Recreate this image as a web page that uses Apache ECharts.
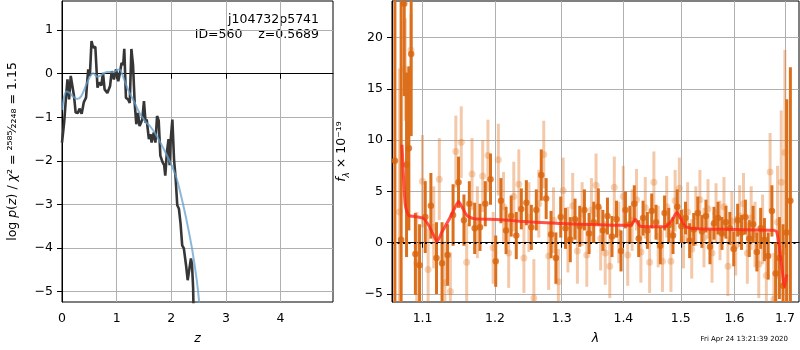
<!DOCTYPE html>
<html>
<head>
<meta charset="utf-8">
<script src="https://cdn.jsdelivr.net/npm/echarts@6/dist/echarts.min.js"></script>
<style>
  html, body { margin: 0; padding: 0; background: #fff; }
  #chart { width: 800px; height: 350px; }
</style>
</head>
<body>
<div id="chart"></div>
<script>
// ---- left panel: log p(z) ----
const zTicks = [0, 1, 2, 3, 4];
const logpTicks = [-5, -4, -3, -2, -1, 0, 1];

const zData = [0, 0.04, 0.07, 0.10, 0.13, 0.16, 0.19, 0.22, 0.25, 0.29,
  0.32, 0.36, 0.40, 0.44, 0.46, 0.48, 0.51, 0.54, 0.57, 0.61,
  0.65, 0.68, 0.72, 0.75, 0.78, 0.83, 0.88, 0.91, 0.95, 0.99,
  1.03, 1.06, 1.09, 1.12, 1.14, 1.17, 1.21, 1.24, 1.27, 1.30,
  1.33, 1.36, 1.39, 1.42, 1.47, 1.50, 1.53, 1.55, 1.59, 1.62,
  1.64, 1.68, 1.71, 1.74, 1.77, 1.80, 1.84, 1.87, 1.89, 1.92,
  1.95, 1.97, 1.99, 2.02, 2.05, 2.08, 2.11, 2.14, 2.17, 2.20,
  2.23, 2.27, 2.30, 2.33, 2.36, 2.38, 2.40, 2.41];
const logpData = [-1.58, -1.11, -0.59, -0.13, -0.59, -0.05, -0.03, -0.51, -0.89, -0.90,
  -0.80, -0.92, -0.65, -0.55, -0.20, 0.10, -0.05, 0.75, 0.60, 0.62,
  -0.32, -0.20, -0.27, 0.02, -0.36, -0.44, -0.28, 0.06, -0.13, 0.10,
  -0.17, 0.02, 0.25, 0.20, 0.57, -0.55, -0.59, -0.67, 0.57, 0.20,
  -0.67, -1.16, -0.90, -1.20, -1.05, -0.63, -1.12, -1.05, -1.50, -1.39,
  -1.58, -1.35, -1.58, -0.97, -1.08, -1.88, -2.03, -2.10, -2.34, -1.80,
  -1.50, -2.10, -1.50, -1.05, -1.96, -2.41, -3.02, -3.10, -3.44, -3.94,
  -4.01, -4.39, -4.74, -4.70, -4.24, -4.39, -4.92, -5.6];

const zSmooth = [0, 0.04, 0.08, 0.14, 0.20, 0.28, 0.35, 0.43, 0.51, 0.57,
  0.65, 0.72, 0.82, 0.94, 1.03, 1.07, 1.12, 1.21, 1.30, 1.42,
  1.54, 1.61, 1.70, 1.80, 1.98, 2.10, 2.22, 2.31, 2.39, 2.47, 2.51, 2.56];
const logpSmooth = [-0.83, -0.52, -0.41, -0.44, -0.52, -0.58, -0.52, -0.29, -0.07, 0.01,
  -0.07, -0.03, 0.04, 0.04, 0.10, 0.08, -0.07, -0.37, -0.59, -0.90,
  -1.12, -1.20, -1.36, -1.58, -2.03, -2.41, -3.02, -3.55, -4.09, -4.77, -5.23, -5.9];

// ---- right panel: spectrum ----
const lamTicks = [1.1, 1.2, 1.3, 1.4, 1.5, 1.6, 1.7];
const fluxTicks = [-5, 0, 5, 10, 15, 20];

const darkLam = [1.064, 1.072, 1.076, 1.079, 1.082, 1.085, 1.0905, 1.096, 1.1035, 1.111,
  1.1185, 1.126, 1.1335, 1.141, 1.1485, 1.156, 1.1635, 1.171, 1.1785, 1.186,
  1.1935, 1.201, 1.2085, 1.216, 1.2235, 1.231, 1.2385, 1.246, 1.2535, 1.261,
  1.2685, 1.276, 1.2835, 1.291, 1.2985, 1.306, 1.3135, 1.321, 1.3285, 1.336,
  1.3435, 1.351, 1.3585, 1.366, 1.3735, 1.381, 1.3885, 1.396, 1.4035, 1.411,
  1.4185, 1.426, 1.4335, 1.441, 1.4485, 1.456, 1.4635, 1.471, 1.4785, 1.486,
  1.4935, 1.501, 1.5085, 1.516, 1.5235, 1.531, 1.5385, 1.546, 1.5535, 1.561,
  1.5685, 1.576, 1.5835, 1.591, 1.5985, 1.606, 1.6135, 1.621, 1.6285, 1.636,
  1.6435, 1.651, 1.6585, 1.666, 1.6735, 1.681, 1.6885, 1.696, 1.7035, 1.711];
const darkFlux = [8.0, 0.3, 23.3, 7.6, 9.2, 18.4, -1.1, -2.2, 2.5, 3.6,
  -1.5, -2.0, -1.2, 2.7, 5.9, 2.2, 3.8, 1.4, 1.5, 3.8,
  6.2, -1.8, 4.1, 1.2, 2.6, 0.7, 3.3, 3.9, 1.5, 3.2,
  6.6, 4.3, 0.8, -1.5, 2.5, 1.4, 0.3, 2.3, 1.6, 3.2,
  0.9, 2.0, 3.5, 1.2, 2.6, 0.6, 2.3, -0.8, 3.2, 1.8,
  3.8, 0.4, 2.4, 1.2, 3.1, 2.0, -0.3, 2.9, 1.7, 0.7,
  3.5, 1.6, 2.4, 0.2, 1.3, 2.9, 1.1, 2.6, -0.4, 1.9,
  2.4, 0.9, 2.0, 1.4, -0.6, 2.2, 1.0, 2.5, 0.4, 1.8,
  -0.9, 1.4, 0.3, -1.3, 3.1, -3.0, -1.5, -4.2, 1.0, 4.1];
const darkErr = [30, 25, 9, 9, 8, 8, 4, 4, 3.5, 3.2,
  3.5, 4, 3, 3, 2.5, 2.5, 2.2, 2.5, 2.3, 2.2,
  2.5, 2.5, 2.2, 2.3, 2, 2.3, 2, 2.2, 2.2, 2,
  2.5, 2, 2.3, 2.5, 2, 2, 2.2, 2, 2, 2,
  2, 2, 1.8, 2, 1.8, 2, 1.8, 2, 1.8, 1.8,
  1.8, 1.8, 1.7, 1.8, 1.7, 1.7, 1.8, 1.7, 1.7, 1.8,
  1.7, 1.6, 1.6, 1.7, 1.6, 1.6, 1.6, 1.6, 1.7, 1.6,
  1.6, 1.6, 1.6, 1.6, 1.7, 1.6, 1.7, 1.7, 1.8, 1.8,
  1.9, 2, 2.1, 2.3, 2.5, 3, 4, 6, 13, 13];

const lightLam = [1.0698, 1.0773, 1.0848, 1.0923, 1.0998, 1.1073, 1.1148, 1.1223, 1.1298, 1.1373,
  1.1448, 1.1523, 1.1598, 1.1673, 1.1748, 1.1823, 1.1898, 1.1973, 1.2048, 1.2123,
  1.2198, 1.2273, 1.2348, 1.2423, 1.2498, 1.2573, 1.2648, 1.2723, 1.2798, 1.2873,
  1.2948, 1.3023, 1.3098, 1.3173, 1.3248, 1.3323, 1.3398, 1.3473, 1.3548, 1.3623,
  1.3698, 1.3773, 1.3848, 1.3923, 1.3998, 1.4073, 1.4148, 1.4223, 1.4298, 1.4373,
  1.4448, 1.4523, 1.4598, 1.4673, 1.4748, 1.4823, 1.4898, 1.4973, 1.5048, 1.5123,
  1.5198, 1.5273, 1.5348, 1.5423, 1.5498, 1.5573, 1.5648, 1.5723, 1.5798, 1.5873,
  1.5948, 1.6023, 1.6098, 1.6173, 1.6248, 1.6323, 1.6398, 1.6473, 1.6548, 1.6623,
  1.6698, 1.6773, 1.6848, 1.6923, 1.6998];
const lightFlux = [3.0, 16.9, 18.8, -2.0, 6.0, -2.6, 1.5, 6.2, -3.9, -4.75,
  8.9, 9.8, -1.9, 6.7, 2.0, 6.5, 8.5, -0.5, 8.1, 3.5,
  -1.0, 4.5, 5.7, -1.5, 2.5, -5.4, 3.8, 8.6, -1.3, 2.2,
  -3.8, 5.1, 0.3, 3.6, -0.8, 2.8, -1.2, 3.2, 5.6, 0.4,
  -1.0, -2.3, 5.4, 1.0, 4.5, -1.2, 2.2, 4.2, -0.9, 3.4,
  -1.9, 5.9, 0.6, -1.8, 3.5, -1.8, 4.1, 5.3, 0.4, 3.0,
  -0.6, 2.6, 4.2, 0.5, 3.3, -1.0, 2.9, 1.2, 3.5, -2.3,
  2.1, -0.3, 2.6, 3.8, -1.0, 2.4, 0.8, -2.1, 1.3, -3.2,
  6.9, -5.5, 2.0, 5.9, 8.8];
const lightErr = [14, 5, 3.5, 5, 4.5, 4, 4, 4, 4, 3.8,
  3.5, 3.5, 3.8, 3.5, 3.5, 3.5, 3.5, 3.5, 3.5, 3.4,
  3.4, 3.4, 3.4, 3.4, 3.4, 3.8, 3.3, 3.3, 3.3, 3.2,
  3.2, 3.2, 3.2, 3.2, 3.2, 3.1, 3.1, 3.1, 3.1, 3.1,
  3.1, 3.1, 3, 3, 3, 3, 3, 3, 3, 3,
  3, 3, 3, 3, 3, 3, 3, 3, 2.9, 2.9,
  2.9, 2.9, 2.9, 2.9, 2.9, 2.9, 2.9, 2.9, 2.9, 2.9,
  2.9, 2.9, 3, 3, 3, 3.1, 3.2, 3.3, 3.4, 3.6,
  3.8, 4.5, 5.5, 7, 10];

const modelLam = [1.0731, 1.0752, 1.0774, 1.0817, 1.0926, 1.1013, 1.108, 1.1146, 1.1192, 1.126,
  1.1349, 1.144, 1.1486, 1.1532, 1.16, 1.1695, 1.2028, 1.2369, 1.3, 1.4,
  1.413, 1.420, 1.4287, 1.4516, 1.472, 1.484, 1.4929, 1.5, 1.508, 1.52,
  1.6, 1.6765, 1.683, 1.688, 1.693, 1.699, 1.7036];
const modelFlux = [9.55, 6.2, 3.64, 2.67, 2.52, 2.35, 1.7, 0.74, 0.1, 1.07,
  2.19, 3.49, 4.03, 3.49, 2.67, 2.35, 2.26, 2.1, 1.87, 1.7,
  1.72, 2.29, 1.6, 1.55, 1.55, 2.19, 2.94, 2.35, 1.6, 1.39,
  1.29, 1.22, 1.07, -0.23, -2.17, -4.3, -3.1];

const FONT = 'DejaVu Sans';
const minus = v => String(v).replace('-', '\u2212');
const zip = (a, b, c) => a.map((v, i) => c ? [v, b[i], c[i]] : [v, b[i]]);

const chart = echarts.init(document.getElementById('chart'));

const gridLine = { show: true, lineStyle: { color: '#b0b0b0', width: 1 } };
const axisLine = { show: true, lineStyle: { color: '#000', width: 1 } };
const tick = (vals) => ({ show: true, length: 5, lineStyle: { color: '#000' }, customValues: vals });
const label = (vals, fmt, margin) => ({
  customValues: vals, color: '#000', fontSize: 12.5, fontFamily: FONT, margin: margin, formatter: fmt
});

function errorBars(lam, flux, err, color, width, z) {
  return {
    type: 'custom', xAxisIndex: 1, yAxisIndex: 1, clip: true, z: z, silent: true,
    data: zip(lam, flux, err),
    encode: { x: 0, y: 1 },
    renderItem: function (params, api) {
      const x = api.value(0), y = api.value(1), e = api.value(2);
      const lo = api.coord([x, y - e]);
      const hi = api.coord([x, y + e]);
      return {
        type: 'line',
        shape: { x1: lo[0], y1: lo[1], x2: hi[0], y2: hi[1] },
        style: { stroke: color, lineWidth: width }
      };
    }
  };
}

const option = {
  animation: false,
  backgroundColor: '#fff',
  textStyle: { fontFamily: FONT },
  grid: [
    { left: 62, top: 1, width: 271, height: 303, show: true, borderColor: '#000', borderWidth: 1 },
    { left: 392, top: 1, width: 407, height: 303, show: true, borderColor: '#000', borderWidth: 1 }
  ],
  xAxis: [
    {
      gridIndex: 0, type: 'value', min: 0, max: 4.96,
      axisLine: axisLine, axisTick: tick(zTicks), splitLine: gridLine,
      axisLabel: label(zTicks, v => minus(v), 10),
      name: 'z', nameLocation: 'middle', nameGap: 30,
      nameTextStyle: { fontStyle: 'italic', fontSize: 12.5, color: '#000', fontFamily: FONT }
    },
    {
      gridIndex: 1, type: 'log', logBase: 10, min: 1.0603, max: 1.7288,
      axisLine: axisLine, axisTick: tick(lamTicks), splitLine: gridLine,
      minorTick: { show: false }, minorSplitLine: { show: false },
      axisLabel: label(lamTicks, v => Number(v).toFixed(1), 10),
      name: 'λ', nameLocation: 'middle', nameGap: 30,
      nameTextStyle: { fontStyle: 'italic', fontSize: 12.5, color: '#000', fontFamily: FONT }
    }
  ],
  yAxis: [
    {
      gridIndex: 0, type: 'value', min: -5.24, max: 1.67,
      axisLine: axisLine, axisTick: tick(logpTicks), splitLine: gridLine,
      axisLabel: label(logpTicks, v => minus(v), 9),
      name: '{n|log }{i|p}{n|(}{i|z}{n|) / }{i|χ}{n|² = ²⁵⁸⁵⁄₂₂₄₈ = 1.15}',
      nameLocation: 'middle', nameGap: 43,
      nameTextStyle: {
        rich: {
          n: { fontSize: 12.5, fontFamily: FONT, color: '#000' },
          i: { fontSize: 12.5, fontFamily: FONT, color: '#000', fontStyle: 'italic' }
        }
      }
    },
    {
      gridIndex: 1, type: 'value', min: -5.78, max: 23.57,
      axisLine: axisLine, axisTick: tick(fluxTicks), splitLine: gridLine,
      axisLabel: label(fluxTicks, v => minus(v), 9),
      name: '{i|f}{s|λ}{n| × 10⁻¹⁹}',
      nameLocation: 'middle', nameGap: 41,
      nameTextStyle: {
        rich: {
          n: { fontSize: 12.5, fontFamily: FONT, color: '#000', lineHeight: 18 },
          i: { fontSize: 12.5, fontFamily: FONT, color: '#000', fontStyle: 'italic', lineHeight: 18 },
          s: { fontSize: 9, fontFamily: FONT, color: '#000', fontStyle: 'italic', verticalAlign: 'bottom', lineHeight: 9 }
        }
      }
    }
  ],
  graphic: [
    { type: 'text', x: 319, y: 20, style: { text: 'j104732p5741', align: 'right', textAlign: 'right', verticalAlign: 'middle', textVerticalAlign: 'middle', fontSize: 12.5, fontFamily: FONT, fill: '#000' } },
    { type: 'text', x: 319, y: 35, style: { text: 'ID=560    z=0.5689', align: 'right', textAlign: 'right', verticalAlign: 'middle', textVerticalAlign: 'middle', fontSize: 12.5, fontFamily: FONT, fill: '#000' } },
    { type: 'text', x: 788, y: 339.5, style: { text: 'Fri Apr 24 13:21:39 2020', align: 'right', textAlign: 'right', verticalAlign: 'middle', textVerticalAlign: 'middle', fontSize: 7, fontFamily: FONT, fill: '#000' } }
  ],
  series: [
    {
      type: 'line', xAxisIndex: 0, yAxisIndex: 0, data: zip(zData, logpData),
      showSymbol: false, symbol: 'none', z: 3,
      lineStyle: { color: '#363636', width: 2.6 }
    },
    {
      type: 'line', xAxisIndex: 0, yAxisIndex: 0, data: zip(zSmooth, logpSmooth),
      showSymbol: false, symbol: 'none', smooth: 0.3, z: 4,
      lineStyle: { color: 'rgba(100,160,205,0.75)', width: 2 }
    },
    errorBars(lightLam, lightFlux, lightErr, 'rgba(228,120,40,0.4)', 3, 2),
    {
      type: 'scatter', xAxisIndex: 1, yAxisIndex: 1, data: zip(lightLam, lightFlux),
      symbolSize: 7, z: 2, clip: true,
      itemStyle: { color: 'rgba(228,120,40,0.4)' }
    },
    errorBars(darkLam, darkFlux, darkErr, '#dc6f1c', 3, 3),
    {
      type: 'scatter', xAxisIndex: 1, yAxisIndex: 1, data: zip(darkLam, darkFlux),
      symbolSize: 6.5, z: 3, clip: true,
      itemStyle: { color: '#d9640c' }
    },
    {
      type: 'line', xAxisIndex: 1, yAxisIndex: 1, data: zip(modelLam, modelFlux),
      showSymbol: false, symbol: 'none', smooth: 0.2, z: 5,
      lineStyle: { color: 'rgba(255,40,30,0.8)', width: 3 }
    },
    {
      type: 'line', xAxisIndex: 1, yAxisIndex: 1, data: [], z: 6,
      markLine: {
        silent: true, symbol: 'none', label: { show: false }, animation: false,
        lineStyle: { color: '#000', type: [2, 3.5], width: 2 },
        data: [{ yAxis: 0 }]
      }
    }
  ]
};

chart.setOption(option);
</script>
</body>
</html>
